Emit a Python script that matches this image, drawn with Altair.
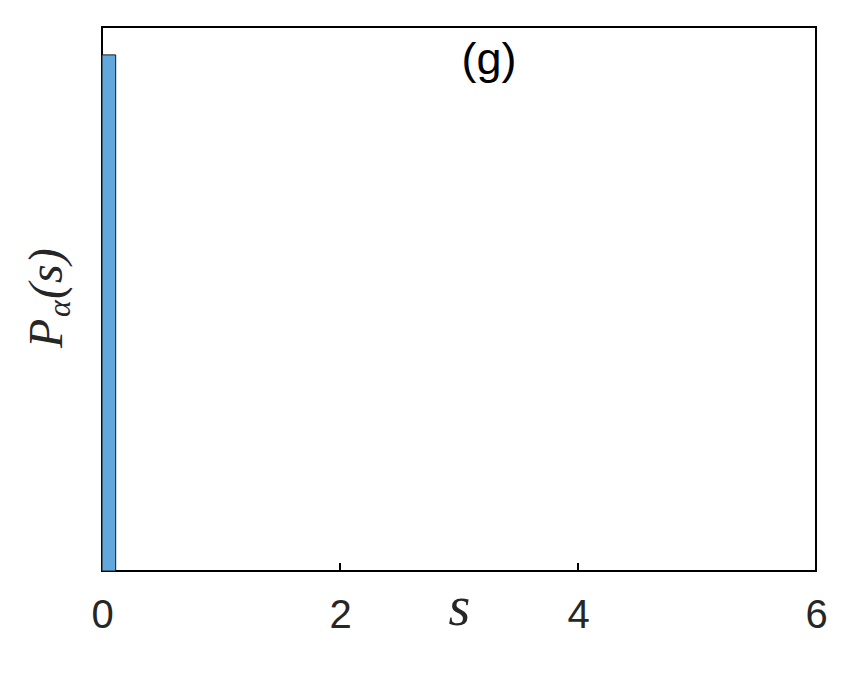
import altair as alt
import pandas as pd

# data
bin_start = [0.0]
bin_end = [0.115]
density = [8.7]
tick_values = [0, 2, 4, 6]
inner_ticks = [2, 4]
panel_label = ["(g)"]

W, H = 714, 544
YMAX = 9.17

bars_df = pd.DataFrame({"s0": bin_start, "s1": bin_end, "p": density, "z": [0.0]})
ticks_df = pd.DataFrame({"t": inner_ticks})
label_df = pd.DataFrame({"lab": panel_label})

xscale = alt.Scale(domain=[0, 6], nice=False, zero=False)
yscale = alt.Scale(domain=[0, YMAX], nice=False)

bars = alt.Chart(bars_df).mark_bar(
    color="#62a8dc", stroke="#1a1a1a", strokeWidth=1
).encode(
    x=alt.X("s0:Q", scale=xscale,
            axis=alt.Axis(values=tick_values, format="d", title="s", grid=False, ticks=False,
                          domain=False, labelFont="Liberation Sans", labelFontSize=40,
                          labelColor="#262626", labelPadding=24, labelFlush=False,
                          titleFont="Liberation Serif", titleFontStyle="italic",
                          titleFontWeight="normal", titleFontSize=56,
                          titleColor="#262626", titleY=53, titleBaseline="alphabetic")),
    x2="s1:Q",
    y=alt.Y("p:Q", scale=yscale,
            axis=alt.Axis(labels=False, ticks=False, grid=False, domain=False,
                          title=None)),
    y2="z:Q",
)

ticks = alt.Chart(ticks_df).mark_rule(color="black", strokeWidth=2).encode(
    x=alt.X("t:Q", scale=xscale),
    y=alt.value(H),
    y2=alt.value(H - 8),
)

label = alt.Chart(label_df).mark_text(
    font="Liberation Sans", fontSize=45, color="black", baseline="alphabetic",
    align="center"
).encode(
    text="lab:N",
    x=alt.value(387),
    y=alt.value(47),
)

# y-axis title P_alpha(s), built from pieces so alpha can be a subscript
ytitle_parts = [("P", 48, -40, 321), ("α", 32, -32, 290), ("(s)", 48, -40, 272)]
ytitle_layers = []
for txt, fs, xp, yp in ytitle_parts:
    ytitle_layers.append(
        alt.Chart(pd.DataFrame({"t": [txt]})).mark_text(
            font="Liberation Serif", fontStyle="italic", fontSize=fs,
            color="#262626", angle=270, align="left", baseline="alphabetic"
        ).encode(text="t:N", x=alt.value(xp), y=alt.value(yp))
    )

chart = alt.layer(bars, ticks, label, *ytitle_layers).properties(
    width=W, height=H,
    background="white",
    autosize=alt.AutoSizeParams(type="none"),
    padding={"left": 94, "top": 19, "right": 20, "bottom": 80},
).configure_view(
    stroke="black", strokeWidth=2
)

chart.save("out.html", embed_options={"renderer": "svg", "actions": False})
